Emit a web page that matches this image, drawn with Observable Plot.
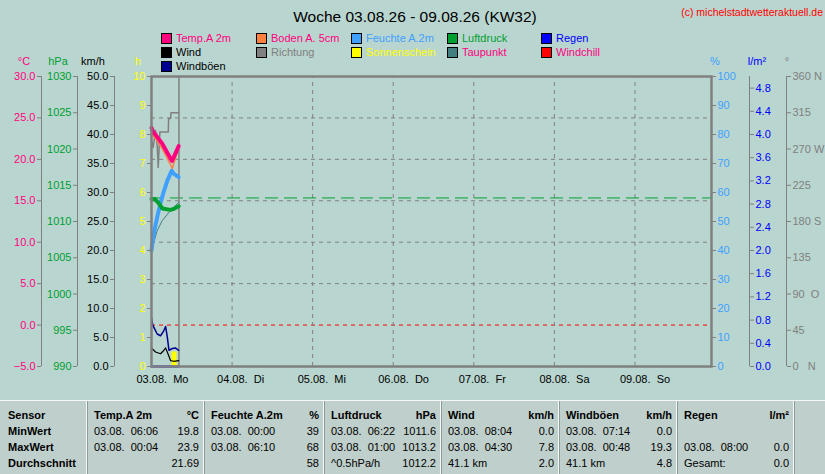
<!DOCTYPE html>
<html>
<head>
<meta charset="utf-8">
<script src="https://cdn.jsdelivr.net/npm/d3@7"></script>
<script src="https://cdn.jsdelivr.net/npm/@observablehq/plot@0.6"></script>
<style>
  body { margin: 0; background: #b9d5cf; font-family: "Liberation Sans", Arial, sans-serif; }
  #page { position: relative; width: 825px; height: 474px; overflow: hidden; }
  #chart { position: absolute; left: 0; top: 0; }
  #chart svg text { white-space: pre; }
  .t { position: absolute; white-space: pre; font-size: 11px; line-height: 12px; }
  .sw { position: absolute; width: 9px; height: 9px; border: 1px solid #000; }
  #table { position: absolute; left: 0; top: 400px; width: 825px; height: 74px; background: #bfcfcb; border-top: 1px solid #f4f8f7; }
  .sep { position: absolute; top: 0; width: 1px; height: 74px; background: #f4f8f7; border-right: 1px solid #8d9b98; }
  .b { font-weight: bold; }
</style>
</head>
<body>
<div id="page">
  <div id="chart"></div>
  <div id="overlay"></div>
  <div id="table"></div>
</div>
<script>
// Woche 03.08. - 09.08.2026, Werte nur bis ca. 08:10 am Montag
const dayLabels = ["03.08.  Mo", "04.08.  Di", "05.08.  Mi", "06.08.  Do", "07.08.  Fr", "08.08.  Sa", "09.08.  So"];

const tempHours = [0, 0.4, 1.5, 3.2, 4.7, 6.1, 7.0, 8.1];
const tempValues = [23.8, 23.4, 22.8, 21.9, 20.8, 19.8, 20.6, 21.6];

const bodenHours = [0, 1.2, 3.2, 4.7, 6.2, 7.1, 8.1];
const bodenValues = [23.1, 22.5, 21.3, 20.1, 18.9, 20.1, 21.5];

const humHours = [0, 0.7, 1.7, 2.7, 3.7, 4.7, 6.0, 6.6, 8.1];
const humValues = [40, 46, 51.5, 56.5, 60.5, 64, 67.5, 66.5, 65.3];

const pressHours = [0, 1.0, 2.2, 3.2, 5.6, 6.4, 8.1];
const pressValues = [1013.1, 1013.1, 1012.5, 1011.8, 1011.6, 1011.7, 1012.1];

const dewHours = [0.2, 1.7, 3.2, 5.2, 6.6, 8.1];
const dewValues = [9.3, 11.4, 12.6, 13.6, 14.2, 14.8];

const dirHours = [0, 0.5, 1.2, 1.7, 2.0, 2.5, 5.0, 5.1, 5.7, 5.8, 8.1];
const dirValues = [280, 272, 293, 274, 247, 291, 291, 308, 308, 315, 315];

const windHours = [0, 1.2, 2.7, 3.7, 4.2, 4.7, 5.7, 6.6, 8.1];
const windValues = [3.2, 2.5, 2.2, 2.8, 3.2, 2.5, 1.0, 0.9, 1.0];

const gustHours = [0, 0.4, 1.7, 2.7, 3.7, 4.2, 4.7, 5.2, 6.2, 7.1, 8.1];
const gustValues = [8.4, 7.1, 5.6, 5.3, 6.2, 6.9, 5.1, 2.8, 3.1, 3.2, 2.8];

const rainHours = [0, 8.1];
const rainValues = [0, 0];

const sunStart = [6.1, 7.6];
const sunEnd = [7.6, 8.1];
const sunValues = [0.5, 0.05];

const nowHour = 8.18;
const stdPressure = 1013.25;

const tickC = [-5, 0, 5, 10, 15, 20, 25, 30];
const tickP = [990, 995, 1000, 1005, 1010, 1015, 1020, 1025, 1030];
const tickK = [0, 5, 10, 15, 20, 25, 30, 35, 40, 45, 50];
const tickH = [0, 1, 2, 3, 4, 5, 6, 7, 8, 9, 10];
const tickPct = [0, 10, 20, 30, 40, 50, 60, 70, 80, 90, 100];
const tickR = [0, 0.4, 0.8, 1.2, 1.6, 2.0, 2.4, 2.8, 3.2, 3.6, 4.0, 4.4, 4.8];
const tickD = [0, 45, 90, 135, 180, 225, 270, 315, 360];
const tickDLabels = ["0   N", "45", "90  O", "135", "180 S", "225", "270 W", "315", "360 N"];
const gridC = [5, 10, 15, 20, 25];

const legendNames = ["Temp.A 2m", "Boden A. 5cm", "Feuchte A.2m", "Luftdruck", "Regen",
  "Wind", "Richtung", "Sonnenschein", "Taupunkt", "Windchill", "Windböen"];
const legendSwatch = ["#ff0080", "#ff8040", "#40a0ff", "#00a030", "#0000ff",
  "#000000", "#808080", "#ffff00", "#408080", "#ff0000", "#000090"];
const legendText = ["#ff0080", "#ff0080", "#40a0ff", "#00a030", "#0000ff",
  "#000000", "#808080", "#ffff00", "#ff0080", "#ff0080", "#000000"];

const tableHeads = ["Temp.A 2m", "Feuchte A.2m", "Luftdruck", "Wind", "Windböen", "Regen"];
const tableUnits = ["°C", "%", "hPa", "km/h", "km/h", "l/m²"];
const minWhen = ["03.08.  06:06", "03.08.  00:00", "03.08.  06:22", "03.08.  08:04", "03.08.  07:14", ""];
const minVal = ["19.8", "39", "1011.6", "0.0", "0.0", ""];
const maxWhen = ["03.08.  00:04", "03.08.  06:10", "03.08.  01:00", "03.08.  04:30", "03.08.  00:48", "03.08.  08:00"];
const maxVal = ["23.9", "68", "1013.2", "7.8", "19.3", "0.0"];
const avgNote = ["", "", "^0.5hPa/h", "41.1 km", "41.1 km", "Gesamt:"];
const avgVal = ["21.69", "58", "1012.2", "2.0", "4.8", "0.0"];

const GRAY = "#808080";
const t0 = Date.UTC(2026, 7, 3);
const at = h => new Date(t0 + h * 3600e3);
const rows = (hours, values) => hours.map((h, i) => ({t: at(h), v: values[i]}));

// jede Achse auf 0..1 normiert
const nC = d3.scaleLinear([-5, 30], [0, 1]);
const nP = d3.scaleLinear([990, 1030], [0, 1]);
const nK = d3.scaleLinear([0, 50], [0, 1]);
const nH = d3.scaleLinear([0, 10], [0, 1]);
const nPct = d3.scaleLinear([0, 100], [0, 1]);
const nR = d3.scaleLinear([0, 5], [0, 1]);
const nD = d3.scaleLinear([0, 360], [0, 1]);

function curve(hours, values, sc, stroke, w) {
  return Plot.line(rows(hours, values), {x: "t", y: d => sc(d.v), stroke, strokeWidth: w});
}

function yAxis(ticks, sc, labels, fill, anchor, dx) {
  const lookup = new Map(ticks.map((v, i) => [sc(v), labels[i]]));
  return Plot.axisY(ticks.map(sc), {
    anchor, dx, tickSize: 4, tickPadding: 2, stroke: GRAY, fill,
    tickFormat: v => lookup.get(v)
  });
}

function axisLine(h, dx) {
  return Plot.ruleX([at(h)], {y1: 0, y2: 1, dx, stroke: GRAY});
}

const xEnd = 6.95 * 24;
const f1 = d3.format(".1f");
const sunRows = sunStart.map((s, i) => ({a: at(s), b: at(sunEnd[i]), v: sunValues[i]}));

const chart = Plot.plot({
  width: 825,
  height: 400,
  marginTop: 76,
  marginBottom: 34,
  marginLeft: 151,
  marginRight: 114,
  x: {type: "utc", domain: [at(0), at(xEnd)]},
  y: {domain: [0, 1]},
  style: {background: "transparent", fontFamily: "Liberation Sans, Arial, sans-serif", fontSize: "11px", color: "#000"},
  marks: [
    Plot.ruleY(gridC.map(nC), {stroke: GRAY, strokeDasharray: "4,4"}),
    Plot.ruleY([nC(0)], {stroke: "#ff0000", strokeDasharray: "4,4"}),
    Plot.ruleX(d3.range(1, 7).map(d => at(d * 24)), {y1: 0, y2: 1, stroke: GRAY, strokeDasharray: "4,4"}),
    Plot.ruleY([nP(stdPressure)], {stroke: "#00a030", strokeDasharray: "13,6"}),
    Plot.ruleX([at(nowHour)], {y1: 0, y2: 1, stroke: GRAY, strokeWidth: 1.5}),
    Plot.rect(sunRows, {x1: "a", x2: "b", y1: 0, y2: d => nH(d.v), fill: "#ffff00"}),
    curve(rainHours, rainValues, nR, "#0000ff", 2),
    curve(dirHours, dirValues, nD, GRAY, 1.5),
    curve(bodenHours, bodenValues, nC, "#ff8040", 1.5),
    curve(dewHours, dewValues, nC, "#408080", 1),
    curve(tempHours, tempValues, nC, "#ff0080", 4),
    curve(humHours, humValues, nPct, "#40a0ff", 4),
    curve(pressHours, pressValues, nP, "#00a030", 4),
    curve(gustHours, gustValues, nK, "#000090", 1.5),
    curve(windHours, windValues, nK, "#000000", 1.2),
    Plot.frame({stroke: GRAY, strokeWidth: 2.5}),
    axisLine(0, -110), axisLine(0, -74), axisLine(0, -37),
    axisLine(xEnd, 38), axisLine(xEnd, 75),
    yAxis(tickC, nC, tickC.map(f1), "#ff0080", "left", -110),
    yAxis(tickP, nP, tickP.map(String), "#00a030", "left", -74),
    yAxis(tickK, nK, tickK.map(f1), "#000000", "left", -37),
    yAxis(tickH, nH, tickH.map(String), "#ffff00", "left", 0),
    yAxis(tickPct, nPct, tickPct.map(String), "#40a0ff", "right", 0),
    yAxis(tickR, nR, tickR.map(f1), "#0000ff", "right", 38),
    yAxis(tickD, nD, tickDLabels, GRAY, "right", 75),
    Plot.axisX(d3.range(0, 7).map(d => at(d * 24)), {
      tickSize: 0, tickPadding: 9, textAnchor: "start", dx: -15,
      tickFormat: d => dayLabels[Math.round((d - t0) / 864e5)]
    })
  ]
});
d3.select("#chart").append(() => chart);

// Titel, Einheiten, Legende
const ov = d3.select("#overlay");
function label(text, x, y, color, extra) {
  return ov.append("div").attr("class", "t").style("left", x + "px").style("top", y + "px")
    .style("color", color).style("transform", extra || null).text(text);
}
label("Woche 03.08.26 - 09.08.26 (KW32)", 415, 9, "#000", "translateX(-50%)").style("font-size", "15.5px").style("line-height", "16px");
label("(c) michelstadtwetteraktuell.de", 823, 6, "#ff0000", "translateX(-100%)").style("font-size", "10.5px");

const unitText = ["°C", "hPa", "km/h", "h", "%", "l/m²", "°"];
const unitX = [24, 58, 93, 138, 715, 757, 787];
const unitColor = ["#ff0080", "#00a030", "#000000", "#ffff00", "#40a0ff", "#0000ff", GRAY];
unitText.forEach((u, i) => label(u, unitX[i], 55, unitColor[i], "translateX(-50%)"));

const legCols = [161, 256, 351, 447, 541];
const legRows = [33, 47, 61];
legendNames.forEach((n, i) => {
  const x = legCols[i % 5], y = legRows[Math.floor(i / 5)];
  ov.append("div").attr("class", "sw").style("left", x + "px").style("top", y + "px").style("background", legendSwatch[i]);
  label(n, x + 15, y - 1, legendText[i]);
});

// Tabelle unten
const tb = d3.select("#table");
const colEdges = [0, 87, 204, 324, 441, 559, 677, 794, 825];
const rowTop = [8, 24, 40, 56];
function cell(text, x, y, right, bold) {
  tb.append("div").attr("class", "t" + (bold ? " b" : "")).style("top", y + "px")
    .style(right ? "right" : "left", (right ? 825 - x : x) + "px").text(text);
}
colEdges.slice(1, -1).forEach(x => tb.append("div").attr("class", "sep").style("left", (x - 1) + "px"));
["Sensor", "MinWert", "MaxWert", "Durchschnitt"].forEach((s, r) => cell(s, 8, rowTop[r], false, true));
tableHeads.forEach((h, c) => {
  const l = colEdges[c + 1] + 7, r = colEdges[c + 2] - 5;
  cell(h, l, rowTop[0], false, true);
  cell(tableUnits[c], r, rowTop[0], true, true);
  cell(minWhen[c], l, rowTop[1]); cell(minVal[c], r, rowTop[1], true);
  cell(maxWhen[c], l, rowTop[2]); cell(maxVal[c], r, rowTop[2], true);
  cell(avgNote[c], l, rowTop[3]); cell(avgVal[c], r, rowTop[3], true);
});
</script>
</body>
</html>
